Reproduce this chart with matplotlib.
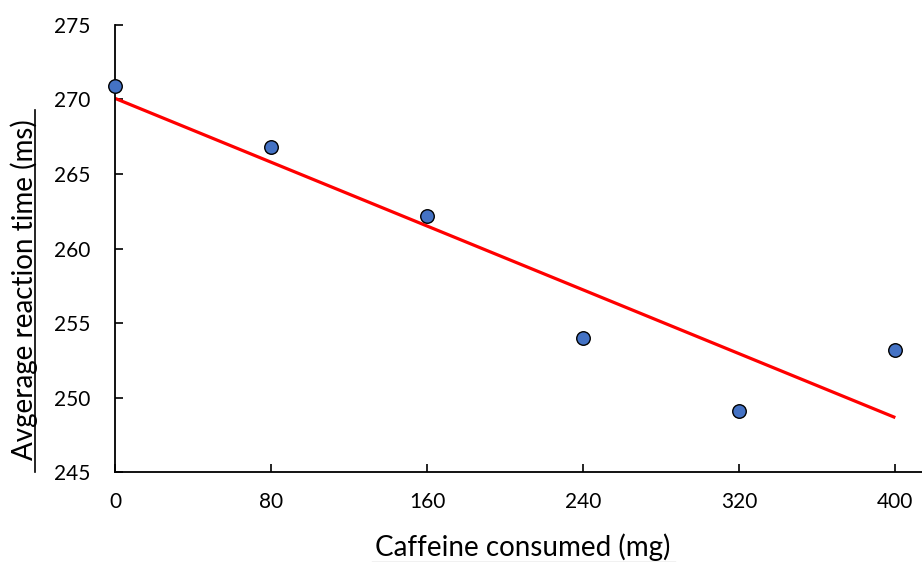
import matplotlib
matplotlib.use("Agg")
import matplotlib.pyplot as plt
import numpy as np
from matplotlib.lines import Line2D

caffeine_mg = [0, 80, 160, 240, 320, 400]
reaction_ms = [270.9, 266.8, 262.2, 254.0, 249.1, 253.2]
x_ticks = [0, 80, 160, 240, 320, 400]
y_ticks = [245, 250, 255, 260, 265, 270, 275]

plt.rcParams['font.family'] = ['Lato', 'DejaVu Sans']

fig = plt.figure(figsize=(9.22, 5.62), dpi=100)
ax = fig.add_axes([0.1247, 0.1596, 0.876, 0.7964])

ax.scatter(caffeine_mg, reaction_ms, s=95, color='#4472C4', edgecolor='black',
           linewidth=1.0, zorder=3, clip_on=False)

coef = np.polyfit(caffeine_mg, reaction_ms, 1)
xl = np.array([caffeine_mg[0], caffeine_mg[-1]])
ax.plot(xl, np.polyval(coef, xl), color='#FF0000', linewidth=2.3, zorder=2,
        solid_capstyle='butt')

ax.set_xlim(0, 414)
ax.set_ylim(245, 275)
ax.set_xticks(x_ticks)
ax.set_yticks(y_ticks)
ax.tick_params(direction='in', length=6, width=1.2, labelsize=15, colors='black')
ax.tick_params(axis='y', pad=18)
ax.tick_params(axis='x', pad=14)
for s in ['top', 'right']:
    ax.spines[s].set_visible(False)
for s in ['left', 'bottom']:
    ax.spines[s].set_linewidth(1.3)

fig.text(0.567, 0.011, 'Caffeine consumed (mg)', fontsize=20, ha='center', va='baseline')
fig.text(0.0358, 0.484, 'Avgerage reaction time (ms)', fontsize=20, rotation=90,
         rotation_mode='anchor', ha='center', va='baseline')
fig.add_artist(Line2D([0.0385, 0.0385], [1 - 472/562, 1 - 110/562],
                      transform=fig.transFigure, color='black', linewidth=1.2))
fig.add_artist(Line2D([372/922, 675/922], [0.5/562, 0.5/562],
                      transform=fig.transFigure, color='#BBBBBB', linewidth=1.0))

fig.savefig('out.png', dpi=100)
